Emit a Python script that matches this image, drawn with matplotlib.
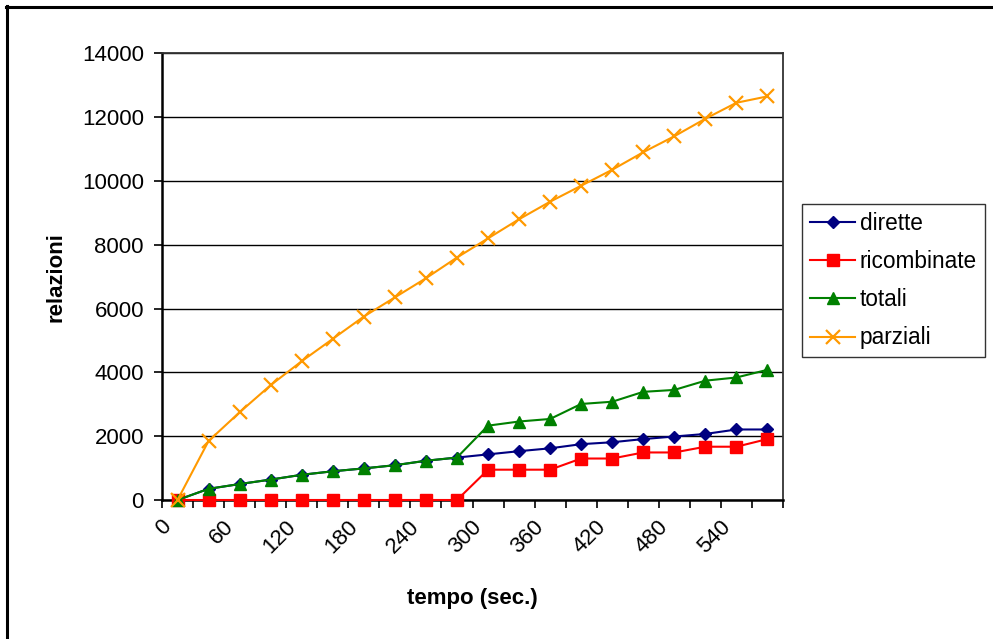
import matplotlib
matplotlib.use("Agg")
import matplotlib.pyplot as plt
from matplotlib.lines import Line2D

plt.rcParams['font.family'] = ['Liberation Sans', 'DejaVu Sans']

# time samples (seconds) and series values
tempo = [0, 30, 60, 90, 120, 150, 180, 210, 240, 270,
         300, 330, 360, 390, 420, 450, 480, 510, 540, 570]
dirette = [0, 350, 500, 640, 790, 900, 990, 1090, 1230, 1330,
           1430, 1530, 1620, 1750, 1810, 1910, 1990, 2070, 2210, 2210]
ricombinate = [0, 0, 0, 0, 0, 0, 0, 0, 0, 0,
               950, 950, 950, 1300, 1300, 1490, 1490, 1670, 1670, 1910]
totali = [0, 350, 500, 640, 790, 900, 990, 1090, 1230, 1330,
          2330, 2460, 2540, 3010, 3080, 3390, 3450, 3740, 3840, 4080]
parziali = [0, 1850, 2750, 3600, 4350, 5050, 5750, 6350, 6950, 7600,
            8200, 8800, 9350, 9850, 10350, 10900, 11400, 11950, 12450, 12650]
y_ticks = [0, 2000, 4000, 6000, 8000, 10000, 12000, 14000]

W, H = 993, 639
fig = plt.figure(figsize=(W / 100, H / 100), dpi=100)
ax = fig.add_axes([162 / W, 1 - 500 / H, (783 - 162) / W, (500 - 53.3) / H])

pos = list(range(len(tempo)))
series = [
    (dirette, 'dirette', '#000080', 'D', 6.5, 1.0),
    (ricombinate, 'ricombinate', '#FF0000', 's', 8.3, 1.0),
    (totali, 'totali', '#008000', '^', 8.8, 1.0),
    (parziali, 'parziali', '#FF9900', 'x', 9.5, 1.6),
]
for vals, name, col, mk, ms, mew in series:
    ax.plot(pos, vals, color=col, lw=1.5, marker=mk, ms=ms, mew=mew,
            mfc=col, mec=col, label=name, clip_on=False, zorder=3)

ax.set_xlim(-0.5, len(tempo) - 0.5)
ax.set_ylim(0, 14000)
ax.set_yticks(y_ticks)
ax.set_yticklabels([str(v) for v in y_ticks])
ax.yaxis.grid(True, color='black', lw=1.0)
ax.set_axisbelow(True)

# tick marks between categories, slanted labels every second category
ax.set_xticks([p - 0.5 for p in pos] + [len(tempo) - 0.5])
ax.set_xticklabels([])
ax.set_xticks([p - 0.3 for p in pos[::2]], minor=True)
ax.set_xticklabels([str(t) for t in tempo[::2]], minor=True,
                   rotation=45, ha='right', va='center', rotation_mode='anchor')
ax.tick_params(axis='x', which='major', length=6, width=1.2, direction='out', color='black')
ax.tick_params(axis='x', which='minor', length=0, pad=17, labelsize=16)
ax.tick_params(axis='y', length=6, width=1.2, direction='out', pad=7, labelsize=16)

for s in ['left', 'bottom']:
    ax.spines[s].set_linewidth(1.8)
    ax.spines[s].set_color('black')
for s in ['top', 'right']:
    ax.spines[s].set_linewidth(1.3)
    ax.spines[s].set_color('#333333')

ax.set_ylabel('relazioni', fontsize=16, fontweight='bold')
ax.set_xlabel('tempo (sec.)', fontsize=16, fontweight='bold')
ax.xaxis.set_label_coords(0.5, -(588 - 500) / (500 - 53.3))
ax.yaxis.set_label_coords(-(162 - 67) / (783 - 162), 0.5)

leg = fig.legend(loc='upper left', bbox_to_anchor=(802 / W, 1 - 204 / H),
                 fontsize=16.3, frameon=True, fancybox=False, borderpad=0.35,
                 handlelength=2.0, handletextpad=0.2, labelspacing=0.67,
                 borderaxespad=0)
leg.get_frame().set_edgecolor('black')
leg.get_frame().set_linewidth(1.0)

# frame lines along top and left edges of the chart
fig.add_artist(Line2D([6 / W, 1], [1 - 7 / H, 1 - 7 / H], transform=fig.transFigure,
                      color='black', lw=2.2))
fig.add_artist(Line2D([7 / W, 7 / W], [0, 1 - 6 / H], transform=fig.transFigure,
                      color='black', lw=2.2))

fig.savefig('out.png', dpi=100)
